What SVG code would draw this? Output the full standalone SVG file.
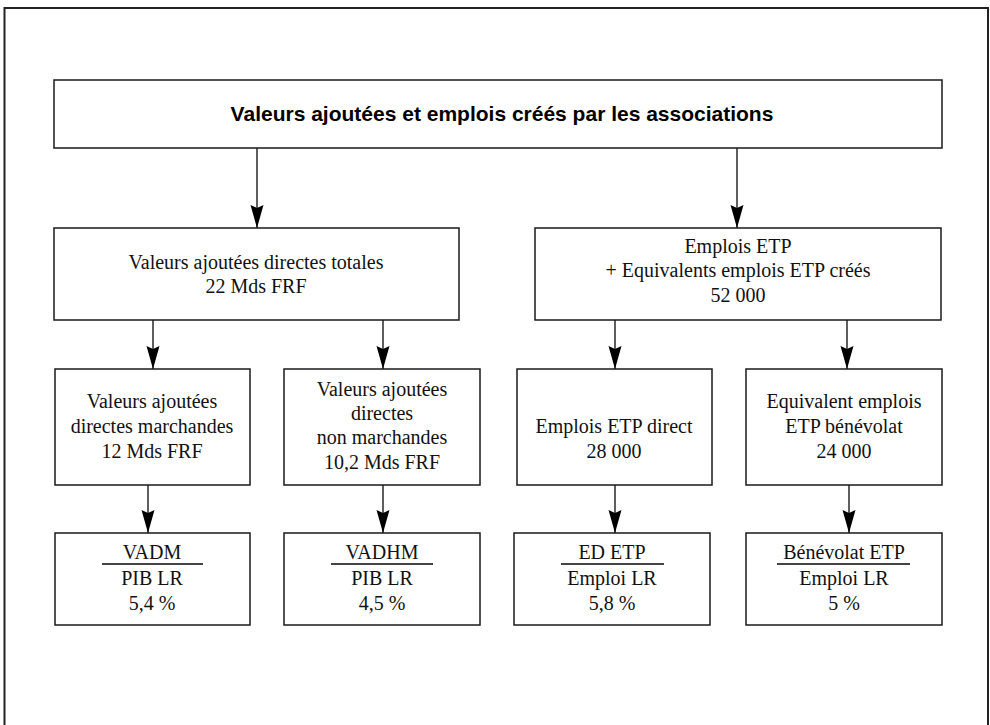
<svg xmlns="http://www.w3.org/2000/svg" width="990" height="725" viewBox="0 0 990 725">
<defs>
<style>
.box{fill:#fff;stroke:#1a1a1a;stroke-width:1.5}
.t{font-family:"Liberation Serif","Times New Roman",serif;font-size:20px;fill:#111;text-anchor:middle}
.title{font-family:"Liberation Sans",Arial,sans-serif;font-weight:bold;font-size:21px;fill:#000;text-anchor:middle}
.conn{stroke:#1a1a1a;stroke-width:1.4;fill:none;marker-end:url(#ah)}
.frac{stroke:#444;stroke-width:2}
</style>
<marker id="ah" markerUnits="userSpaceOnUse" viewBox="0 0 23 14" refX="23" refY="7" markerWidth="23" markerHeight="14" orient="auto">
<path d="M0,0.5 L23,7 L0,13.5 L3,7 Z" fill="#000"/>
</marker>
</defs>
<rect x="0" y="0" width="990" height="725" fill="#fff"/>
<rect x="4.5" y="8" width="983.5" height="730" fill="none" stroke="#222" stroke-width="2"/>

<g id="connectors">
<line class="conn" x1="257" y1="148" x2="257" y2="228"/>
<line class="conn" x1="737" y1="148" x2="737" y2="228"/>
<line class="conn" x1="153" y1="320" x2="153" y2="369"/>
<line class="conn" x1="383" y1="320" x2="383" y2="369"/>
<line class="conn" x1="615" y1="320" x2="615" y2="369"/>
<line class="conn" x1="847" y1="320" x2="847" y2="369"/>
<line class="conn" x1="148" y1="485" x2="148" y2="533"/>
<line class="conn" x1="383" y1="485" x2="383" y2="533"/>
<line class="conn" x1="615" y1="485" x2="615" y2="533"/>
<line class="conn" x1="849" y1="485" x2="849" y2="533"/>
</g>

<g id="n-title">
<rect class="box" x="54" y="80" width="888" height="68"/>
<text class="title" x="502" y="121">Valeurs ajoutées et emplois créés par les associations</text>
</g>

<g id="n-va-totales">
<rect class="box" x="54" y="228" width="405" height="92"/>
<text class="t" x="256" y="269">Valeurs ajoutées directes totales</text>
<text class="t" x="256" y="293">22 Mds FRF</text>
</g>

<g id="n-emplois">
<rect class="box" x="535" y="228" width="406" height="92"/>
<text class="t" x="738" y="253">Emplois ETP</text>
<text class="t" x="738" y="277">+ Equivalents emplois ETP créés</text>
<text class="t" x="738" y="302">52 000</text>
</g>

<g id="n-vadm-src">
<rect class="box" x="55" y="369" width="195" height="116"/>
<text class="t" x="152" y="408">Valeurs ajoutées</text>
<text class="t" x="152" y="433">directes marchandes</text>
<text class="t" x="152" y="458">12 Mds FRF</text>
</g>

<g id="n-vadhm-src">
<rect class="box" x="284" y="369" width="196" height="116"/>
<text class="t" x="382" y="396">Valeurs ajoutées</text>
<text class="t" x="382" y="420">directes</text>
<text class="t" x="382" y="444">non marchandes</text>
<text class="t" x="382" y="469">10,2 Mds FRF</text>
</g>

<g id="n-etp-direct">
<rect class="box" x="517" y="369" width="195" height="116"/>
<text class="t" x="614" y="433">Emplois ETP direct</text>
<text class="t" x="614" y="458">28 000</text>
</g>

<g id="n-etp-benevolat">
<rect class="box" x="746" y="369" width="196" height="116"/>
<text class="t" x="844" y="408">Equivalent emplois</text>
<text class="t" x="844" y="433">ETP bénévolat</text>
<text class="t" x="844" y="458">24 000</text>
</g>

<g id="n-vadm">
<rect class="box" x="55" y="533" width="195" height="92"/>
<text class="t" x="152" y="559">VADM</text>
<line class="frac" x1="102" y1="564" x2="203" y2="564"/>
<text class="t" x="152" y="585">PIB LR</text>
<text class="t" x="152" y="610">5,4 %</text>
</g>

<g id="n-vadhm">
<rect class="box" x="284" y="533" width="196" height="92"/>
<text class="t" x="382" y="559">VADHM</text>
<line class="frac" x1="331" y1="564" x2="433" y2="564"/>
<text class="t" x="382" y="585">PIB LR</text>
<text class="t" x="382" y="610">4,5 %</text>
</g>

<g id="n-ed-etp">
<rect class="box" x="514" y="533" width="196" height="92"/>
<text class="t" x="612" y="559">ED ETP</text>
<line class="frac" x1="561" y1="564" x2="664" y2="564"/>
<text class="t" x="612" y="585">Emploi LR</text>
<text class="t" x="612" y="610">5,8 %</text>
</g>

<g id="n-benevolat-etp">
<rect class="box" x="746" y="533" width="196" height="92"/>
<text class="t" x="844" y="559">Bénévolat ETP</text>
<line class="frac" x1="777" y1="564" x2="910" y2="564"/>
<text class="t" x="844" y="585">Emploi LR</text>
<text class="t" x="844" y="610">5 %</text>
</g>
</svg>
